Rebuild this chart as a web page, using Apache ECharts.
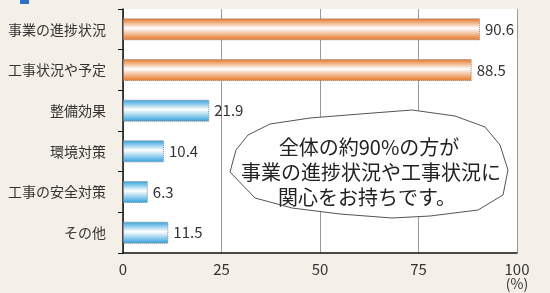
<!DOCTYPE html>
<html><head><meta charset="utf-8">
<script src="https://cdn.jsdelivr.net/npm/echarts@6/dist/echarts.min.js"></script>
<style>html,body{margin:0;padding:0;background:#f4f0e7;}#c{width:550px;height:293px;}</style>
</head><body><div id="c"></div>
<script>
const categories = ['事業の進捗状況','工事状況や予定','整備効果','環境対策','工事の安全対策','その他'];
const values = [90.6, 88.5, 21.9, 10.4, 6.3, 11.5];
const colorGroup = ['orange','orange','blue','blue','blue','blue'];
const xTicks = [0, 25, 50, 75, 100];
const calloutLines = ['全体の約90%の方が','事業の進捗状況や工事状況に','関心をお持ちです。'];

const FONT = '"Noto Sans CJK JP", "Noto Sans", sans-serif';
function grad(c){
  return {type:'linear',x:0,y:0,x2:0,y2:1,colorStops:[
    {offset:0,color:c},{offset:0.45,color:'#ffffff'},{offset:1,color:c}]};
}
const fills = {orange: grad('#e4731f'), blue: grad('#2e9fdc')};
const data = values.map((v,i)=>({value:v,itemStyle:{color:fills[colorGroup[i]]}}));

const chart = echarts.init(document.getElementById('c'));
chart.setOption({
  backgroundColor:'#f4f0e7',
  animation:false,
  grid:{left:123,right:33,top:9,bottom:40,show:true,backgroundColor:'#ffffff',borderWidth:0},
  xAxis:{type:'value',min:0,max:100,interval:25,
    axisLine:{show:true,lineStyle:{color:'#111',width:1.5}},
    axisTick:{show:false},
    splitLine:{show:true,lineStyle:{color:'#999',width:1}},
    axisLabel:{color:'#333',fontSize:15,fontFamily:FONT,margin:9,
      formatter:v=>xTicks.includes(v)?String(v):''}
  },
  yAxis:{type:'category',data:categories,inverse:true,
    axisLine:{show:true,lineStyle:{color:'#111',width:1.5}},
    axisTick:{show:true,length:5,lineStyle:{color:'#111'}},
    axisLabel:{color:'#333',fontSize:14,fontFamily:FONT,margin:17}
  },
  series:[{type:'bar',data:data,barWidth:22,
    itemStyle:{borderColor:'#8a8a8a',borderWidth:1,borderType:'dotted'},
    label:{show:true,position:'right',distance:5,color:'#333',fontSize:15,fontFamily:FONT,
      formatter:p=>p.value.toFixed(1)}
  }],
  graphic:[
    {type:'rect',shape:{x:20,y:-4,width:9,height:8},style:{fill:'#2f6fc4'}},
    {type:'text',x:517,y:284,style:{text:'(%)',fill:'#333',fontSize:14,fontFamily:FONT,align:'center',verticalAlign:'middle'}},
    {type:'polygon',smooth:0.35,z:10,
      shape:{points:[[230,172],[236,150],[248,135],[270,124],[310,118],[360,114],[412,110],[455,116],[485,127],[500,145],[508,170],[503,195],[478,210],[430,216],[392,218],[340,214],[292,208],[255,198]]},
      style:{fill:'#ffffff',stroke:'#555',lineWidth:1}},
    {type:'text',x:369,y:147,z:11,style:{text:calloutLines[0],fill:'#222',fontSize:20,fontFamily:FONT,align:'center',verticalAlign:'middle'}},
    {type:'text',x:371,y:172,z:11,style:{text:calloutLines[1],fill:'#222',fontSize:20,fontFamily:FONT,align:'center',verticalAlign:'middle'}},
    {type:'text',x:367,y:197,z:11,style:{text:calloutLines[2],fill:'#222',fontSize:20,fontFamily:FONT,align:'center',verticalAlign:'middle'}}
  ]
});
</script></body></html>
